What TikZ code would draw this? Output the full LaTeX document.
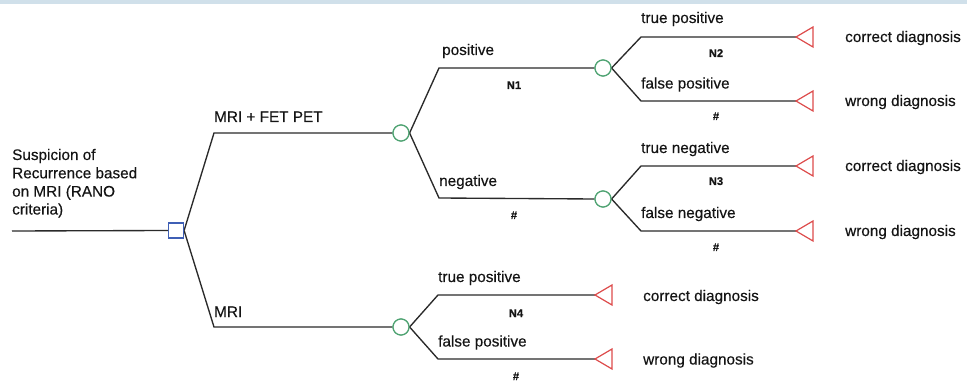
\documentclass[tikz,border=0pt]{standalone}
\usepackage{fontspec}
\setmainfont[FakeBold=0.35]{Liberation Sans}
\definecolor{band}{HTML}{D0E0EA}
\definecolor{lin}{HTML}{2A2A2A}
\definecolor{decb}{HTML}{3F5FB5}
\definecolor{chg}{HTML}{4FA372}
\definecolor{trr}{HTML}{DD4B4B}
\definecolor{txt}{HTML}{141414}
\tikzset{
  edge/.style={draw=lin, line width=1.35pt},
  decbox/.style={rectangle, draw=decb, line width=1.2pt, minimum size=15pt, inner sep=0pt, fill=white},
  chance/.style={circle, draw=chg, line width=1.2pt, minimum size=16pt, inner sep=0pt, fill=white},
  term/.style={draw=trr, line width=1.2pt, line join=miter},
  lab/.style={anchor=base west, inner sep=0pt, text=txt, font=\fontsize{15.3}{18.2}\selectfont},
  small/.style={anchor=base, inner sep=0pt, text=txt, font=\bfseries\fontsize{11.2}{12}\selectfont},
}
\begin{document}
\begin{tikzpicture}[x=1pt,y=-1pt]
\useasboundingbox (0,0) rectangle (967,382);
\fill[band] (0,0) rectangle (967,4.5);

% nodes
\node[decbox] (dec) at (176,230.5) {};
\node[chance] (c1) at (401,133) {};
\node[chance] (c2) at (603,68) {};
\node[chance] (c3) at (603,199) {};
\node[chance] (c4) at (401,327) {};

% bend coordinates
\coordinate (start) at (12,231);
\coordinate (b1) at (214,133);
\coordinate (b2) at (214,327);
\coordinate (b3) at (439,68);
\coordinate (b4) at (439,198);
\coordinate (b5) at (641,37);
\coordinate (b6) at (641,101);
\coordinate (b7) at (641,166);
\coordinate (b8) at (641,231);
\coordinate (b9) at (438,295);
\coordinate (b10) at (438,359);

% terminal tips
\coordinate (t1) at (796,37);
\coordinate (t2) at (796,101);
\coordinate (t3) at (796,166);
\coordinate (t4) at (796,231);
\coordinate (t5) at (595,295);
\coordinate (t6) at (595,359);

% connectors
\draw[edge] (start) -- (dec.west);
\draw[edge] (dec.east) -- (b1) -- (c1.west);
\draw[edge] (dec.east) -- (b2) -- (c4.west);
\draw[edge] (c1.east) -- (b3) -- (c2.west);
\draw[edge] (c1.east) -- (b4) -- (c3.west);
\draw[edge] (c2.east) -- (b5) -- (t1);
\draw[edge] (c2.east) -- (b6) -- (t2);
\draw[edge] (c3.east) -- (b7) -- (t3);
\draw[edge] (c3.east) -- (b8) -- (t4);
\draw[edge] (c4.east) -- (b9) -- (t5);
\draw[edge] (c4.east) -- (b10) -- (t6);

% redraw nodes on top
\node[decbox] at (dec) {};
\node[chance] at (c1) {};
\node[chance] at (c2) {};
\node[chance] at (c3) {};
\node[chance] at (c4) {};

% terminals
\foreach \t in {t1,t2,t3,t4,t5,t6}{
  \draw[term] (\t) -- ++(17,-10) -- ++(0,20) -- cycle;
}

% labels
\node[lab] (root1) at (12,160) {Suspicion of};
\node[lab] (root2) at (12,178.3) {Recurrence based};
\node[lab] (root3) at (12,196.6) {on MRI (RANO};
\node[lab] (root4) at (12,214.5) {criteria)};

\node[lab] (lmf) at (214,122) {MRI + FET PET};
\node[lab] (lmri) at (214,317) {MRI};

\node[lab] (lpos) at (442,55) {positive};
\node[small] (n1) at (514,89) {N1};
\node[lab] (lneg) at (439,186) {negative};
\node[small] (h1) at (514,219) {\#};

\node[lab] (ltp1) at (641,23) {true positive};
\node[small] (n2) at (716,57) {N2};
\node[lab] (lfp1) at (641,88.5) {false positive};
\node[small] (h2) at (716,120) {\#};
\node[lab] (ltn) at (641,153) {true negative};
\node[small] (n3) at (716,185) {N3};
\node[lab] (lfn) at (641,218) {false negative};
\node[small] (h3) at (716,251) {\#};

\node[lab] (ltp2) at (438,282) {true positive};
\node[small] (n4) at (516,317) {N4};
\node[lab] (lfp2) at (438,346.5) {false positive};
\node[small] (h4) at (516,380) {\#};

\node[lab] (cd1) at (845,42) {correct diagnosis};
\node[lab] (wd1) at (845,106) {wrong diagnosis};
\node[lab] (cd2) at (845,171) {correct diagnosis};
\node[lab] (wd2) at (845,236) {wrong diagnosis};
\node[lab] (cd3) at (643,301) {correct diagnosis};
\node[lab] (wd3) at (643,364.5) {wrong diagnosis};
\end{tikzpicture}
\end{document}
